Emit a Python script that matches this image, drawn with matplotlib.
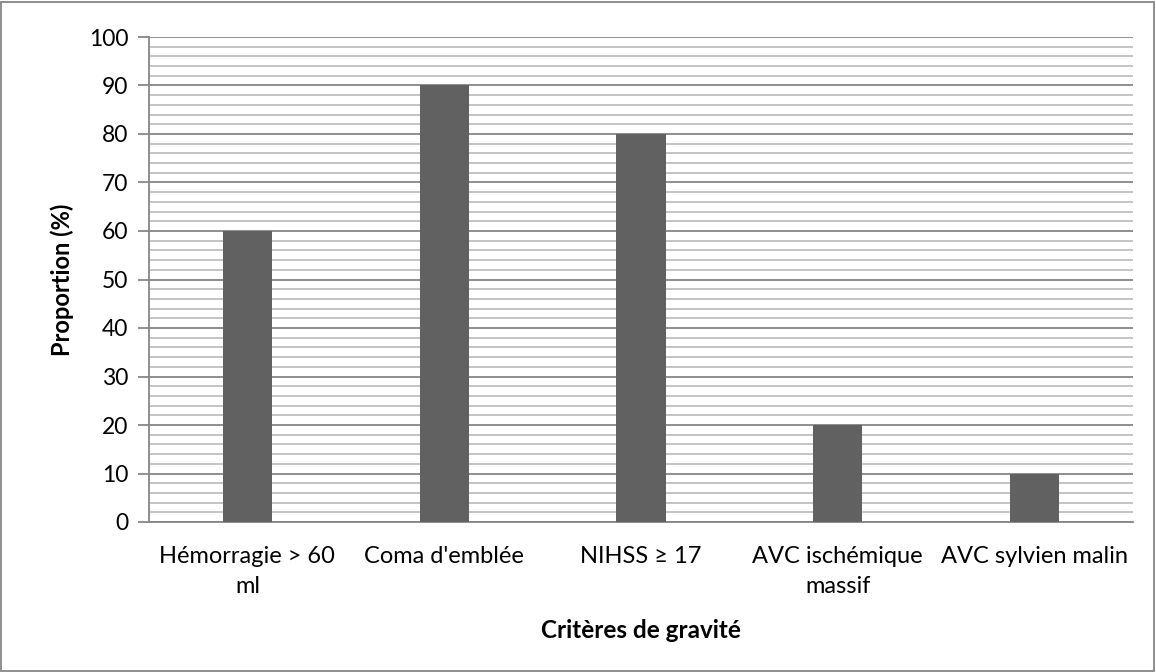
import matplotlib
matplotlib.use("Agg")
import matplotlib.pyplot as plt
from matplotlib.patches import Rectangle
from matplotlib.ticker import MultipleLocator

categories = ["Hémorragie > 60\nml", "Coma d'emblée", "NIHSS ≥ 17", "AVC ischémique\nmassif", "AVC sylvien malin"]
values = [60, 90, 80, 20, 10]
yticks = list(range(0, 101, 10))

plt.rcParams['font.family'] = ['Lato', 'DejaVu Sans']

fig = plt.figure(figsize=(11.56, 6.72), dpi=100)
ax = fig.add_axes([149/1156, 150/672, (1133-149)/1156, (522-37)/672])

x = list(range(len(categories)))
ax.bar(x, values, width=0.25, color="#616161", zorder=3)
ax.set_xlim(-0.5, len(categories) - 0.5)
ax.set_ylim(0, 100)
ax.set_yticks(yticks)
ax.yaxis.set_minor_locator(MultipleLocator(2))
ax.grid(axis='y', which='major', color="#868686", linewidth=1.3, zorder=1)
ax.grid(axis='y', which='minor', color="#bfbfbf", linewidth=1.3, zorder=1)
ax.set_xticks(x)
ax.set_xticklabels(categories, fontsize=17, linespacing=1.55)
ax.tick_params(axis='x', length=0, pad=17)
ax.tick_params(axis='y', which='major', length=8, width=1.3, color="#868686", labelsize=16.5, pad=7)
ax.tick_params(axis='y', which='minor', length=0)
for s in ['top', 'right']:
    ax.spines[s].set_visible(False)
ax.spines['left'].set_color("#868686")
ax.spines['left'].set_linewidth(1.3)
ax.spines['bottom'].set_color("#868686")
ax.spines['bottom'].set_linewidth(1.3)
ax.set_ylabel("Proportion (%)", fontsize=17, fontweight='bold', va='center')
ax.set_xlabel("Critères de gravité", fontsize=17.5, fontweight='bold', va='center')
ax.yaxis.set_label_coords((62 - 149) / 984, 0.5)
ax.xaxis.set_label_coords(0.5, (522 - 631) / 485)

fig.patches.append(Rectangle((1/1156, 1/672), 1153/1156, 669/672, transform=fig.transFigure,
                             fill=False, edgecolor="#868686", linewidth=1.3))

fig.savefig("out.png", dpi=100)
